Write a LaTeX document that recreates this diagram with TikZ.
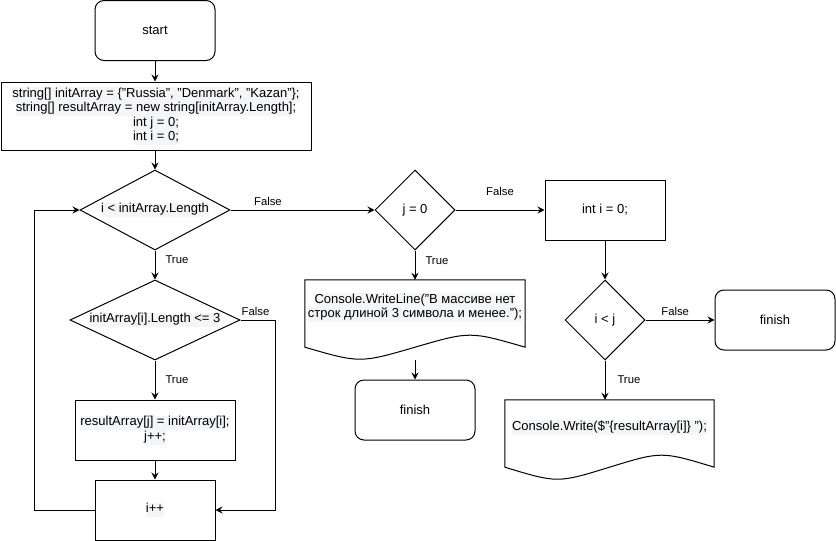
\documentclass[tikz,border=0pt]{standalone}
\usepackage{fontspec}
\setmainfont{Liberation Sans}
\usetikzlibrary{shapes.geometric,arrows.meta,calc}
\definecolor{hlbg}{RGB}{244,245,246}
% light band behind code text, one per line
\newcommand\hlt[1]{{\setlength\fboxsep{0pt}\colorbox{hlbg}{\strut #1}}}

\begin{document}
\begin{tikzpicture}[x=1pt,y=-1pt,
  every node/.style={font=\fontsize{13}{14.5}\selectfont, align=center, inner sep=0pt},
  box/.style={draw, line width=1pt, rectangle},
  term/.style={box, rounded corners=9pt, minimum width=120pt, minimum height=60pt},
  dec/.style={draw, line width=1pt, diamond},
  lbl/.style={font=\fontsize{11.3}{13}\selectfont},
  arr/.style={line width=1pt, -{Stealth[length=7pt,width=7pt,inset=2.5pt]}},
  ln/.style={line width=1pt},
  doc/.style={minimum height=55pt}
]
\fill[white] (0,0) rectangle (836,541);
\useasboundingbox (0,0) rectangle (836,541);

% left column
\node[term] (start) at (155,30.5) {start};
\node[box, minimum width=310pt, minimum height=68pt] (init) at (156,116)
  {\hlt{string[] initArray = \{"Russia", "Denmark", "Kazan"\};}\\
   \hlt{string[] resultArray = new string[initArray.Length];}\\
   \hlt{int j = 0;}\\
   \hlt{int i = 0;}};
\node[dec, minimum width=150pt, minimum height=80pt,
  label={center:{\hlt{i < initArray.Length}}}] (d1) at (155,210) {};
\node[dec, minimum width=170pt, minimum height=80pt,
  label={center:{\hlt{initArray[i].Length <= 3}}}] (d4) at (155,320) {};
\node[box, minimum width=160pt, minimum height=60pt] (rbox) at (155,430)
  {\hlt{resultArray[j] = initArray[i];}\\ \hlt{j++;}};
\node[box, minimum width=120pt, minimum height=60pt] (inc) at (155,510) {\hlt{i++}};

% middle column
\node[dec, minimum width=80pt, minimum height=80pt, label={center:{j = 0}}] (d2) at (415,210) {};
\node[doc, minimum width=220pt] (doc1) at (415,307.5)
  {\hlt{Console.WriteLine("В массиве нет}\\ \hlt{строк длиной 3 символа и менее.");}};
\draw[ln] (doc1.north west) -- (doc1.north east) -- ($(doc1.south east)+(0,12)$)
  .. controls ($(doc1.south)+(55,-4)$) .. ($(doc1.south)+(0,12)$)
  .. controls ($(doc1.south)+(-55,28)$) .. ($(doc1.south west)+(0,12)$) -- cycle;
\node[term] (fin1) at (415,410) {finish};

% right column
\node[box, minimum width=120pt, minimum height=60pt] (ini2) at (605,210) {int i = 0;};
\node[dec, minimum width=80pt, minimum height=80pt, label={center:{i < j}}] (d3) at (605,320) {};
\node[term] (fin2) at (775,320) {finish};
\node[doc, minimum width=209pt] (doc2) at (609.5,427.5)
  {\hlt{Console.Write(\$"\{resultArray[i]\} ");}};
\draw[ln] (doc2.north west) -- (doc2.north east) -- ($(doc2.south east)+(0,12)$)
  .. controls ($(doc2.south)+(52,-4)$) .. ($(doc2.south)+(0,12)$)
  .. controls ($(doc2.south)+(-52,28)$) .. ($(doc2.south west)+(0,12)$) -- cycle;

% connectors
\draw[arr] (start.south) -- (start.south |- init.north);
\draw[arr] (d1 |- init.south) -- (d1.north);
\draw[arr] (d1.south) -- node[lbl, pos=0.33, anchor=west, xshift=10pt] {True} (d4.north);
\draw[arr] (d4.south) -- node[lbl, pos=0.5, anchor=west, xshift=10pt] {True} (rbox.north);
\draw[arr] (rbox.south) -- (inc.north);
\draw[arr] (d4.east) -- node[lbl, pos=0.43, above, yshift=4pt] {False} ++(35,0) |- (inc.east);
\draw[arr] (inc.west) -- ++(-60,0) |- (d1.west);
\draw[arr] (d1.east) -- node[lbl, pos=0.26, above, yshift=4pt] {False} (d2.west);
\draw[arr] (d2.south) -- node[lbl, pos=0.33, anchor=west, xshift=10pt] {True} (d2.south |- doc1.north);
\draw[arr] ($(doc1.south)+(0,25)$) -- (fin1.north);
\draw[arr] (d2.east) -- node[lbl, pos=0.5, above, yshift=14pt] {False} (ini2.west);
\draw[arr] (ini2.south) -- (d3.north);
\draw[arr] (d3.east) -- node[lbl, pos=0.43, above, yshift=4pt] {False} (fin2.west);
\draw[arr] (d3.south) -- node[lbl, pos=0.5, anchor=west, xshift=12pt] {True} (d3.south |- doc2.north);
\end{tikzpicture}
\end{document}
